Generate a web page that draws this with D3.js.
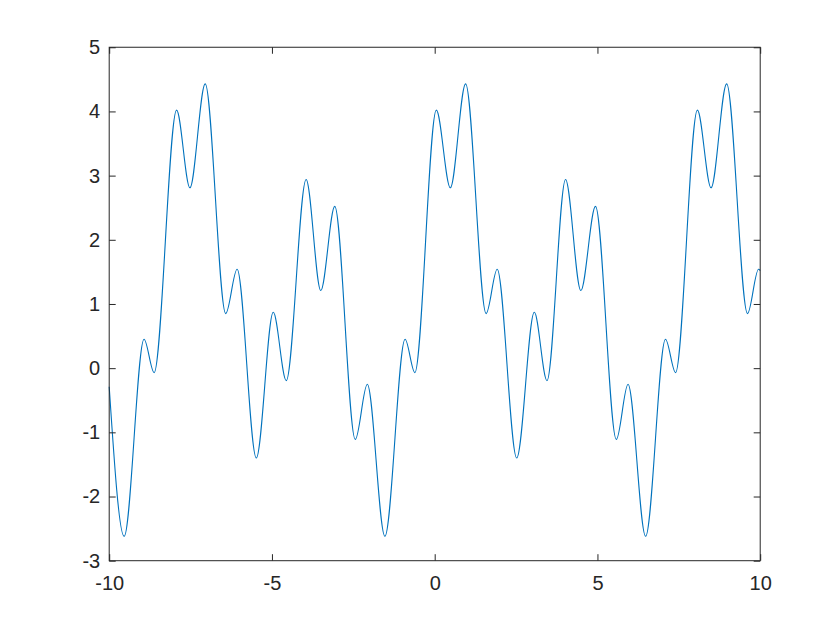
<!DOCTYPE html>
<html>
<head>
<meta charset="utf-8">
<script src="https://cdn.jsdelivr.net/npm/d3@7"></script>
<style>
  html, body { margin: 0; padding: 0; background: #fff; }
  svg { display: block; }
  .tick text { font-family: "Liberation Sans", Arial, Helvetica, sans-serif; font-size: 20px; fill: #262626; }
</style>
</head>
<body>
<svg id="chart" width="840" height="630"></svg>
<script>
// curve: local extrema plus end points
const xs = [
  -10, -9.54, -8.93, -8.62, -7.93, -7.52, -7.05, -6.42, -6.07, -5.48, -4.96, -4.56,
  -3.95, -3.50, -3.07, -2.44, -2.07, -1.53, -0.91, -0.61, 0.05, 0.48, 0.95, 1.58,
  1.92, 2.52, 3.06, 3.45, 4.02, 4.49, 4.94, 5.58, 5.94, 6.48, 7.09, 7.40, 8.07,
  8.49, 8.97, 9.61, 9.95, 10
];
const ys = [
  -0.29, -2.62, 0.45, -0.07, 4.02, 2.81, 4.43, 0.85, 1.54, -1.40, 0.87, -0.195,
  2.94, 1.21, 2.52, -1.11, -0.25, -2.62, 0.45, -0.07, 4.02, 2.81, 4.43, 0.85,
  1.54, -1.40, 0.87, -0.195, 2.94, 1.21, 2.52, -1.11, -0.25, -2.62, 0.45, -0.07, 4.02,
  2.81, 4.43, 0.85, 1.54, 1.52
];
const xTicks = [-10, -5, 0, 5, 10];
const yTicks = [-3, -2, -1, 0, 1, 2, 3, 4, 5];

const W = 840, H = 630;
const mLeft = 0.13 * W, mTop = H - 0.11 * H - 0.815 * H;
const pw = 0.775 * W, ph = 0.815 * H;
const ink = '#262626';

const svg = d3.select('#chart');
const x = d3.scaleLinear().domain([-10, 10]).range([mLeft, mLeft + pw]);
const y = d3.scaleLinear().domain([-3, 5]).range([mTop + ph, mTop]);

const pts = xs.map((v, i) => [v, ys[i]]);

svg.append('path')
  .datum(pts)
  .attr('fill', 'none')
  .attr('stroke', '#0072bd')
  .attr('stroke-width', 1.1)
  .attr('d', d3.line().x(d => x(d[0])).y(d => y(d[1])).curve(d3.curveMonotoneX));

const fmt = d => String(d);
const tickLen = 6.5;

function styleAxis(g, hideText) {
  g.select('.domain').remove();
  g.selectAll('.tick line').attr('stroke', ink).attr('stroke-width', 1);
  if (hideText) g.selectAll('.tick text').remove();
}

svg.append('g')
  .attr('transform', `translate(0,${mTop + ph})`)
  .call(d3.axisBottom(x).tickValues(xTicks).tickFormat(fmt).tickSizeInner(-tickLen).tickPadding(15))
  .call(g => styleAxis(g, false))
  .call(g => g.selectAll('.tick text').attr('font-family', null).attr('font-size', null));

svg.append('g')
  .attr('transform', `translate(0,${mTop})`)
  .call(d3.axisTop(x).tickValues(xTicks).tickSizeInner(-tickLen))
  .call(g => styleAxis(g, true));

svg.append('g')
  .attr('transform', `translate(${mLeft},0)`)
  .call(d3.axisLeft(y).tickValues(yTicks).tickFormat(fmt).tickSizeInner(-tickLen).tickPadding(9))
  .call(g => styleAxis(g, false))
  .call(g => g.selectAll('.tick text').attr('font-family', null).attr('font-size', null));

svg.append('g')
  .attr('transform', `translate(${mLeft + pw},0)`)
  .call(d3.axisRight(y).tickValues(yTicks).tickSizeInner(-tickLen))
  .call(g => styleAxis(g, true));

svg.append('rect')
  .attr('x', mLeft).attr('y', mTop).attr('width', pw).attr('height', ph)
  .attr('fill', 'none').attr('stroke', ink).attr('stroke-width', 1);
</script>
</body>
</html>
